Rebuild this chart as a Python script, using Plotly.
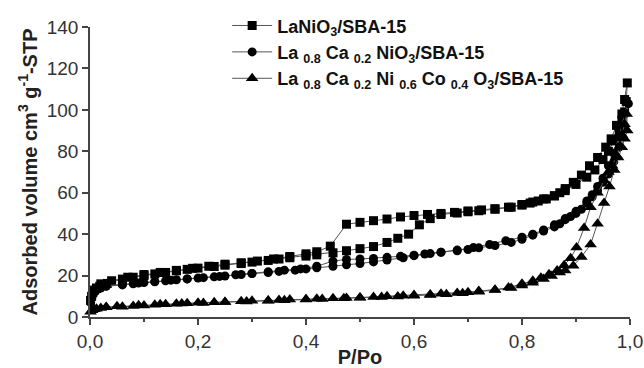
import plotly.graph_objects as go

# ---- data: LaNiO3/SBA-15 (adsorption then desorption) ----
la_ads_x = [0.001,0.003,0.005,0.008,0.012,0.018,0.025,0.032,0.06,0.08,0.10,0.12,0.14,0.16,0.18,0.20,0.23,0.25,0.28,0.30,0.33,0.35,0.37,0.40,0.42,0.45,0.475,0.50,0.525,0.55,0.57,0.59,0.61,0.63,0.65,0.68,0.70,0.72,0.75,0.78,0.80,0.82,0.84,0.86,0.87,0.88,0.895,0.91,0.925,0.94,0.955,0.965,0.975,0.985,0.99,0.995]
la_ads_y = [8,10,12,13,14,14.8,15.5,16.2,18.3,19.2,20,20.8,21.5,22.3,23,23.6,24.4,25,25.8,26.5,27.3,28,28.6,29.4,30,31,32,33,34,36,38,40,44.5,47.5,49.5,50.2,50.8,51.3,52,53,54.3,55.5,57,58.5,60,62,65,68.5,73,77,82,86,92.5,98,105,113]
la_des_x = [0.993,0.99,0.985,0.98,0.97,0.96,0.95,0.935,0.92,0.90,0.88,0.86,0.845,0.83,0.815,0.80,0.775,0.75,0.725,0.70,0.675,0.65,0.625,0.60,0.575,0.55,0.525,0.50,0.475,0.445,0.42,0.40,0.37,0.34,0.31,0.28,0.25,0.22,0.19,0.16,0.13,0.10,0.07,0.04,0.02]
la_des_y = [104,99,95,90,85,80,76,71,67.5,64,61,58.5,57,56,55,54,53,52.3,51.7,51.2,50.5,50,49.5,49,48.3,47.3,46.5,45.7,44.8,34.2,31.5,30.5,29.2,28,27,26.2,25.5,24.5,23.5,22.5,21.5,20.5,19.2,17.5,16]

# ---- data: La0.8Ca0.2NiO3/SBA-15 ----
ca_ads_x = [0.001,0.003,0.006,0.01,0.015,0.02,0.03,0.06,0.08,0.10,0.12,0.14,0.16,0.18,0.20,0.23,0.25,0.28,0.30,0.33,0.35,0.38,0.40,0.42,0.45,0.475,0.50,0.525,0.55,0.58,0.60,0.63,0.65,0.68,0.70,0.72,0.75,0.78,0.80,0.82,0.84,0.86,0.87,0.88,0.89,0.90,0.91,0.92,0.93,0.94,0.95,0.96,0.97,0.98,0.99,0.997]
ca_ads_y = [7,9,11,12.5,13.5,14,14.8,15.5,16,16.6,17,17.5,18,18.4,18.8,19.4,19.8,20.5,21,21.5,22,22.6,23.2,23.8,24.5,25.2,25.8,26.6,27.5,28.6,29.6,30.6,31.2,32,32.6,33.4,34.5,36,37.5,39.5,41.5,43.5,45,47,48.5,50,52,55,58,61,65,69,75,82,92,103]
ca_des_x = [0.99,0.98,0.97,0.96,0.95,0.94,0.93,0.92,0.90,0.88,0.86,0.84,0.82,0.80,0.77,0.74,0.71,0.68,0.65,0.62,0.60,0.575,0.55,0.525,0.50,0.475,0.45,0.42,0.39,0.36,0.33,0.30,0.27,0.24,0.21,0.18,0.15,0.12,0.09,0.06,0.03]
ca_des_y = [98,87,79,73,67,63,59,56,51,47.5,44.5,42,40,38.5,36.8,35,33.5,32.3,31.3,30.4,29.8,29.3,28.8,28.3,28,27.8,27,24.5,23.2,22.6,21.8,21,20.4,19.6,19,18.4,17.8,17.1,16.4,15.8,15]

# ---- data: La0.8Ca0.2Ni0.6Co0.4O3/SBA-15 ----
co_ads_x = [0.001,0.004,0.008,0.012,0.02,0.03,0.06,0.08,0.10,0.12,0.14,0.16,0.18,0.20,0.23,0.25,0.28,0.30,0.33,0.35,0.37,0.40,0.42,0.45,0.475,0.50,0.525,0.55,0.58,0.60,0.63,0.65,0.68,0.70,0.72,0.75,0.78,0.80,0.82,0.84,0.855,0.87,0.88,0.895,0.91,0.927,0.94,0.952,0.962,0.971,0.978,0.985,0.99,0.995]
co_ads_y = [2.5,3.2,3.7,4,4.4,4.7,5,5.3,5.6,5.9,6.1,6.4,6.6,6.9,7.1,7.3,7.6,7.8,8,8.2,8.4,8.6,8.8,9,9.2,9.4,9.7,10,10.3,10.6,10.9,11.2,11.6,12,12.5,13.2,14,15.2,16.5,18.3,19.8,21.5,22.5,24.8,29,35,45,55,63,71,77,82,86,90]
co_des_x = [0.994,0.99,0.985,0.981,0.975,0.967,0.96,0.952,0.94,0.927,0.915,0.901,0.89,0.878,0.865,0.85,0.835,0.82,0.80,0.775,0.75,0.72,0.69,0.66,0.63,0.60,0.57,0.54,0.50,0.47,0.43,0.40,0.36,0.33,0.29,0.25,0.21,0.17,0.13,0.09,0.05,0.03]
co_des_y = [98,93,88,82.6,78,73,70,66,60,53,43,33.6,28.4,25,22.5,20.6,19,17.5,16,14.2,13,12.2,11.5,11,10.6,10.2,9.9,9.6,9.3,9,8.7,8.4,8.1,7.8,7.5,7.2,6.8,6.5,6.1,5.7,5.2,4.8]

names = [
    "LaNiO<sub>3</sub>/SBA-15",
    "La <sub>0.8</sub> Ca <sub>0.2</sub> NiO<sub>3</sub>/SBA-15",
    "La <sub>0.8</sub> Ca <sub>0.2</sub> Ni <sub>0.6</sub> Co <sub>0.4</sub> O<sub>3</sub>/SBA-15",
]
series = [
    (la_ads_x + la_des_x, la_ads_y + la_des_y, "square", 9),
    (ca_ads_x + ca_des_x, ca_ads_y + ca_des_y, "circle", 9),
    (co_ads_x + co_des_x, co_ads_y + co_des_y, "triangle-up", 11),
]

fig = go.Figure()
for (xs, ys, sym, sz), nm in zip(series, names):
    fig.add_trace(go.Scatter(
        x=xs, y=ys, name=nm, mode="lines+markers",
        line=dict(color="#555555", width=1),
        marker=dict(symbol=sym, size=sz, color="black"),
        cliponaxis=False,
    ))

FONT = "Liberation Sans, Arial, sans-serif"
fig.update_layout(
    width=644, height=368,
    margin=dict(l=90, r=14, t=27, b=51, autoexpand=False),
    paper_bgcolor="white", plot_bgcolor="white",
    separators=",.",
    font=dict(family=FONT, color="#222222", size=17),
    showlegend=True,
    legend=dict(
        x=0.254, y=1.068, xanchor="left", yanchor="top",
        bgcolor="rgba(0,0,0,0)", itemwidth=40,
        font=dict(family=FONT, size=18, color="#111111", weight="bold"),
        tracegroupgap=0,
    ),
    xaxis=dict(
        range=[0, 1.0], dtick=0.2, tick0=0, tickformat=".1f", automargin=False,
        showline=True, linecolor="#444444", linewidth=1.5,
        ticks="outside", ticklen=6, tickcolor="#444444", tickwidth=1.5,
        minor=dict(dtick=0.1, ticks="outside", ticklen=3, tickcolor="#444444", tickwidth=1.5),
        showgrid=False, zeroline=False, mirror=False,
        tickfont=dict(size=19, color="#333333"),
        title=dict(text="<b>P/Po</b>", font=dict(size=20, color="#222222"), standoff=2),
    ),
    yaxis=dict(
        range=[0, 140], dtick=20, tick0=0, automargin=False,
        showline=True, linecolor="#444444", linewidth=1.5,
        ticks="outside", ticklen=6, tickcolor="#444444", tickwidth=1.5,
        showgrid=False, zeroline=False, mirror=False,
        tickfont=dict(size=19, color="#333333"),
        title=dict(text="<b>Adsorbed volume cm<sup>3</sup> g<sup>-1</sup>-STP</b>",
                   font=dict(size=20, color="#222222"), standoff=4),
    ),
)

fig.write_html("out.html")
